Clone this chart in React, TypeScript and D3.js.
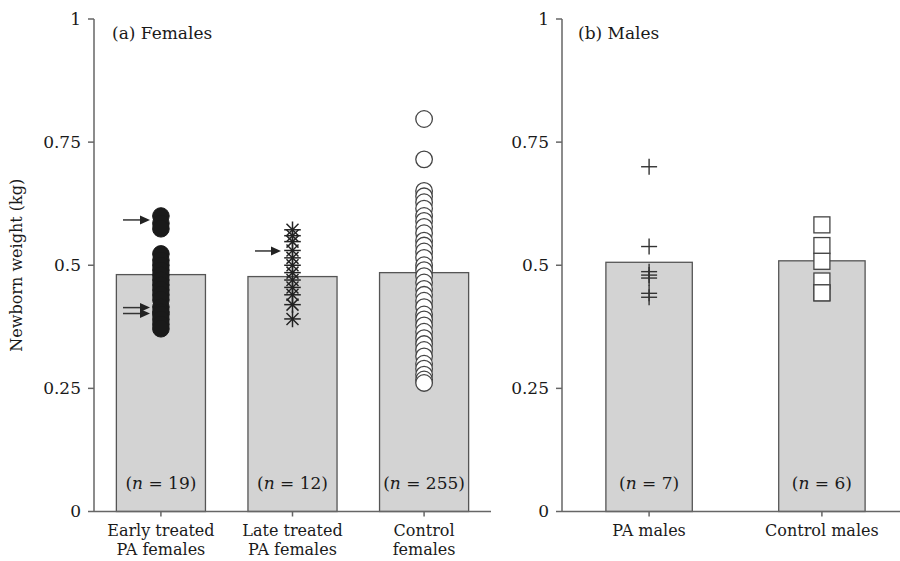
import React from "react";
import * as d3 from "d3";

const femaleCats = ["Early treated|PA females", "Late treated|PA females", "Control|females"];
const femaleMeans = [0.481, 0.477, 0.485];
const femaleN = ["19", "12", "255"];
const maleCats = ["PA males", "Control males"];
const maleMeans = [0.506, 0.509];
const maleN = ["7", "6"];

const earlyPts = [0.6, 0.585, 0.574, 0.523, 0.51, 0.5, 0.49, 0.48, 0.47, 0.46, 0.45, 0.44, 0.43, 0.415, 0.405, 0.4, 0.39, 0.38, 0.371];
const latePts = [0.572, 0.56, 0.548, 0.53, 0.515, 0.5, 0.485, 0.47, 0.455, 0.44, 0.42, 0.391];
const controlFPts = [0.797, 0.715, 0.651, 0.64, 0.628, 0.615, 0.6, 0.59, 0.578, 0.565, 0.55, 0.54, 0.528, 0.515, 0.5, 0.49, 0.478, 0.465, 0.452, 0.44, 0.428, 0.415, 0.4, 0.39, 0.378, 0.365, 0.352, 0.34, 0.328, 0.315, 0.3, 0.29, 0.278, 0.268, 0.261];
const paMalePts = [0.7, 0.538, 0.487, 0.48, 0.474, 0.443, 0.435];
const controlMalePts = [0.582, 0.54, 0.508, 0.468, 0.444, 0.444];

const earlyArrows = [0.592, 0.414, 0.402];
const lateArrows = [0.529];
const yTicks = [0, 0.25, 0.5, 0.75, 1];
const yTickLabels = ["0", "0.25", "0.5", "0.75", "1"];

const FONT = "DejaVu Serif";
const AX = "#666";
const BAR_FILL = "#d3d3d3";
const BAR_STROKE = "#555";
const INK = "#1a1a1a";

export default function App() {
  if (typeof document !== "undefined") document.body.style.margin = "0";
  const y = d3.scaleLinear().domain([0, 1]).range([511.5, 19]);
  const xL = d3.scaleBand<string>().domain(femaleCats).range([94, 491]).paddingInner(0.323).paddingOuter(0.17);
  const xR = d3.scaleBand<string>().domain(maleCats).range([562, 909]).paddingInner(0.5).paddingOuter(0.254);

  const yAxis = (x0: number, x1: number, xScale: d3.ScaleBand<string>, cats: string[], key: string) => (
    <g key={key}>
      <line x1={x0} x2={x0} y1={y(1)} y2={y(0)} stroke={AX} strokeWidth={1.5} />
      <line x1={x0} x2={x1} y1={y(0)} y2={y(0)} stroke={AX} strokeWidth={1.5} />
      {yTicks.map((t, i) => (
        <g key={i}>
          <line x1={x0 - 6} x2={x0} y1={y(t)} y2={y(t)} stroke={AX} strokeWidth={1.5} />
          <text x={x0 - 13} y={y(t)} dy="0.35em" textAnchor="end" fontFamily={FONT} fontSize={17} fill={INK}>
            {yTickLabels[i]}
          </text>
        </g>
      ))}
      {cats.map((c) => {
        const cx = (xScale(c) as number) + xScale.bandwidth() / 2;
        const lines = c.split("|");
        return (
          <g key={c}>
            <line x1={cx} x2={cx} y1={y(0)} y2={y(0) + 5} stroke={AX} strokeWidth={1.5} />
            {lines.map((l, j) => (
              <text key={j} x={cx} y={536 + j * 19} textAnchor="middle" fontFamily={FONT} fontSize={16} fill={INK}>
                {l}
              </text>
            ))}
          </g>
        );
      })}
    </g>
  );

  const bars = (xScale: d3.ScaleBand<string>, cats: string[], means: number[], ns: string[]) =>
    cats.map((c, i) => {
      const x = xScale(c) as number;
      const w = xScale.bandwidth();
      return (
        <g key={c}>
          <rect x={x} y={y(means[i])} width={w} height={y(0) - y(means[i])} fill={BAR_FILL} stroke={BAR_STROKE} strokeWidth={1.3} />
          <text x={x + w / 2} y={489} textAnchor="middle" fontFamily={FONT} fontSize={17} fill={INK}>
            (<tspan fontStyle="italic">n</tspan> = {ns[i]})
          </text>
        </g>
      );
    });

  const cxOf = (s: d3.ScaleBand<string>, c: string) => (s(c) as number) + s.bandwidth() / 2;
  const cEarly = cxOf(xL, femaleCats[0]);
  const cLate = cxOf(xL, femaleCats[1]);
  const cCtrl = cxOf(xL, femaleCats[2]);
  const cPaM = cxOf(xR, maleCats[0]);
  const cCtrlM = cxOf(xR, maleCats[1]);

  const arrow = (x1: number, x2: number, v: number, k: string) => {
    const yy = y(v);
    return (
      <g key={k}>
        <line x1={x1} x2={x2 - 7} y1={yy} y2={yy} stroke="#333" strokeWidth={1.5} />
        <path d={`M${x2},${yy} L${x2 - 10},${yy - 4.5} L${x2 - 10},${yy + 4.5} Z`} fill="#222" />
      </g>
    );
  };

  const r = 8.3;
  const ast = (cx: number, v: number, k: string) => {
    const cy = y(v);
    const d = 6;
    return (
      <g key={k} stroke="#222" strokeWidth={1.5}>
        <line x1={cx - r} x2={cx + r} y1={cy} y2={cy} />
        <line x1={cx} x2={cx} y1={cy - r} y2={cy + r} />
        <line x1={cx - d} x2={cx + d} y1={cy - d} y2={cy + d} />
        <line x1={cx - d} x2={cx + d} y1={cy + d} y2={cy - d} />
      </g>
    );
  };

  return (
    <svg width={900} height={561} style={{ display: "block", background: "#fff" }}>
      {bars(xL, femaleCats, femaleMeans, femaleN)}
      {bars(xR, maleCats, maleMeans, maleN)}
      {yAxis(94, 491, xL, femaleCats, "L")}
      {yAxis(562, 909, xR, maleCats, "R")}

      {earlyPts.map((v, i) => (
        <circle key={"e" + i} cx={cEarly} cy={y(v)} r={r} fill="#1a1a1a" stroke="#1a1a1a" strokeWidth={1} />
      ))}
      {latePts.map((v, i) => ast(cLate, v, "l" + i))}
      {controlFPts.map((v, i) => (
        <circle key={"c" + i} cx={cCtrl} cy={y(v)} r={r} fill="#fff" stroke="#444" strokeWidth={1.3} />
      ))}
      {paMalePts.map((v, i) => (
        <g key={"p" + i} stroke="#333" strokeWidth={1.4}>
          <line x1={cPaM - 8} x2={cPaM + 8} y1={y(v)} y2={y(v)} />
          <line x1={cPaM} x2={cPaM} y1={y(v) - 8} y2={y(v) + 8} />
        </g>
      ))}
      {controlMalePts.map((v, i) => (
        <rect key={"s" + i} x={cCtrlM - 8} y={y(v) - 8} width={16} height={16} fill="#fff" stroke="#444" strokeWidth={1.3} />
      ))}

      {arrow(123, 150, earlyArrows[0], "a0")}
      {arrow(123, 150, earlyArrows[1], "a1")}
      {arrow(123, 150, earlyArrows[2], "a2")}
      {arrow(255, 281, lateArrows[0], "a3")}

      <text x={112} y={39} fontFamily={FONT} fontSize={17} fill={INK}>(a) Females</text>
      <text x={578} y={39} fontFamily={FONT} fontSize={17} fill={INK}>(b) Males</text>
      <text transform={`translate(22,${y(0.5)}) rotate(-90)`} textAnchor="middle" fontFamily={FONT} fontSize={16} fill={INK}>
        Newborn weight (kg)
      </text>
    </svg>
  );
}
